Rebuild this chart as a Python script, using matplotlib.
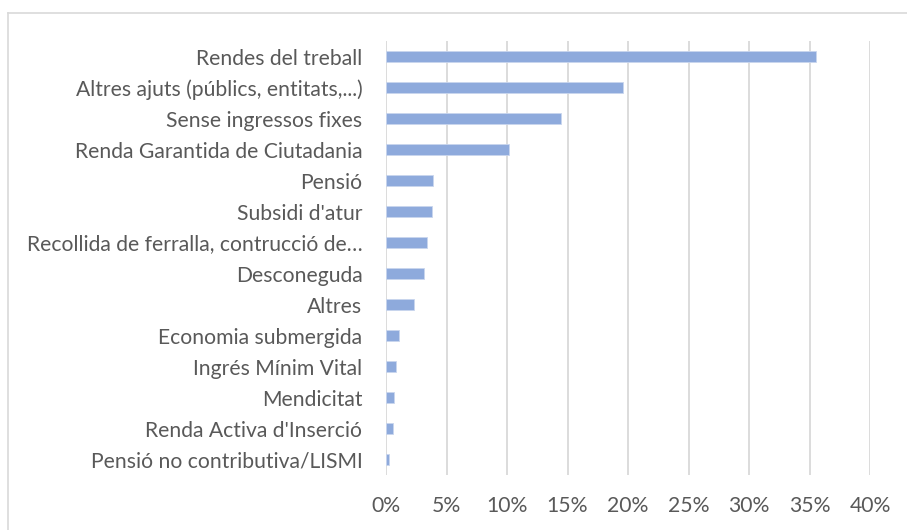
import matplotlib.pyplot as plt
from matplotlib.lines import Line2D
from matplotlib.ticker import FuncFormatter

# Dades
categories = [
    "Rendes del treball",
    "Altres ajuts (públics, entitats,...)",
    "Sense ingressos fixes",
    "Renda Garantida de Ciutadania",
    "Pensió",
    "Subsidi d'atur",
    "Recollida de ferralla, contrucció de…",
    "Desconeguda",
    "Altres",
    "Economia submergida",
    "Ingrés Mínim Vital",
    "Mendicitat",
    "Renda Activa d'Inserció",
    "Pensió no contributiva/LISMI",
]
values = [35.5, 19.6, 14.5, 10.2, 3.9, 3.8, 3.4, 3.1, 2.3, 1.1, 0.8, 0.7, 0.6, 0.27]
xticks = [0, 5, 10, 15, 20, 25, 30, 35, 40]

plt.rcParams['font.family'] = ['Lato', 'DejaVu Sans']

fig = plt.figure(figsize=(9.07, 5.30), dpi=100)
ax = fig.add_axes([386 / 907, 1 - 475 / 530, (870 - 386) / 907, (475 - 41) / 530])

# marc del gràfic (només es veuen la vora esquerra i la de dalt)
fx, fy = 7.5 / 907, 1 - 12.5 / 530
fig.lines.append(Line2D([fx, fx], [0, fy], transform=fig.transFigure, color='#d9d9d9', lw=1.2))
fig.lines.append(Line2D([fx, 1], [fy, fy], transform=fig.transFigure, color='#d9d9d9', lw=1.2))

y = range(len(categories))
ax.barh(y, values, height=0.36, color='#8eaadc', edgecolor='#c9d6ee', linewidth=0.6, zorder=3)

ax.set_ylim(len(categories) - 0.5, -0.5)
ax.set_xlim(0, 40)
ax.set_xticks(xticks)
ax.xaxis.set_major_formatter(FuncFormatter(lambda v, p: f"{v:.0f}%"))
ax.set_yticks(list(y))
ax.set_yticklabels(categories)

ax.grid(axis='x', color='#d9d9d9', linewidth=1.3, zorder=0)
for s in ax.spines.values():
    s.set_visible(False)
ax.tick_params(axis='both', length=0, colors='#595959', labelsize=15.2)
ax.tick_params(axis='x', pad=15)
ax.tick_params(axis='y', pad=17)

plt.savefig('out.png', dpi=100)
